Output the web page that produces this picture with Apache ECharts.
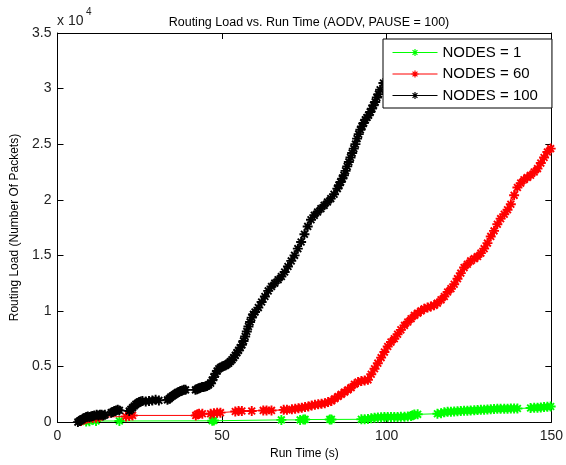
<!DOCTYPE html>
<html>
<head>
<meta charset="utf-8">
<script src="https://cdn.jsdelivr.net/npm/echarts@6/dist/echarts.min.js"></script>
<style>html,body{margin:0;padding:0;background:#fff}#c{width:566px;height:465px}</style>
</head>
<body>
<div id="c"></div>
<script>
// ---- data (Run Time in s, Routing Load in packets) ----
const seriesNames = ['NODES = 1', 'NODES = 60', 'NODES = 100'];
const xTicks = [0, 50, 100, 150];
const yTicks = [0, 5000, 10000, 15000, 20000, 25000, 30000, 35000];

const t1 = [8.7, 9.7, 11.7, 18.8, 47, 47.5, 68, 73.7, 74.7, 75.2, 82.7, 83.2, 92.3, 93.3, 94.3, 95.3, 96.3, 97.3, 98.3, 99.3, 100.3, 101.3, 102.3, 103.3, 104.3, 105.4, 106.4, 107.4, 107.9, 108.4, 109.4, 115.4, 116.5, 117.5, 118.5, 119.5, 120.5, 121.5, 122.5, 123.5, 124.5, 125.5, 126.6, 127.6, 128.6, 129.6, 130.6, 131.6, 132.6, 133.6, 134.6, 135.7, 136.7, 137.7, 138.7, 139.7, 143.7, 144.8, 145.8, 146.8, 147.8, 148.8, 149.8];
const v1 = [50, 80, 100, 100, 120, 150, 200, 200, 230, 240, 240, 240, 250, 260, 280, 350, 400, 420, 440, 450, 450, 460, 460, 450, 470, 480, 500, 540, 620, 680, 700, 750, 800, 880, 920, 940, 950, 980, 1000, 1020, 1030, 1040, 1060, 1080, 1100, 1120, 1140, 1160, 1180, 1190, 1200, 1200, 1210, 1220, 1230, 1220, 1270, 1290, 1300, 1320, 1350, 1370, 1400];

const t60 = [7.2, 8.2, 8.7, 9.7, 10.7, 11.7, 12.7, 20.8, 21.8, 22.8, 42, 42.5, 43, 44, 46.5, 47.5, 48.5, 49.5, 54, 55, 56, 59, 62.5, 63.5, 65, 68.7, 69.7, 71.2, 72.2, 73.2, 74.2, 75.2, 76.2, 77.2, 78.2, 79.2, 80.2, 81.2, 82.2, 83.2, 84.2, 85.2, 86.2, 87.2, 88.2, 89.2, 90.2, 91.3, 92.3, 93.3, 94.3, 95.3, 96.3, 97.3, 98.3, 99.3, 100.3, 101.3, 102.3, 103.3, 104.3, 105.4, 106.4, 107.4, 108.4, 109.4, 110.4, 111.4, 112.4, 113.4, 114.4, 115.4, 116.5, 117.5, 118.5, 119.5, 120.5, 121.5, 122.5, 123.5, 124.5, 125.5, 126.6, 127.6, 128.6, 129.6, 130.6, 131.6, 132.6, 133.6, 134.6, 135.7, 136.7, 137.7, 138.7, 139.7, 140.7, 141.7, 142.7, 143.7, 144.8, 145.8, 146.8, 147.8, 148.8, 149.8];
const v60 = [100, 250, 300, 350, 400, 400, 450, 500, 550, 600, 600, 700, 750, 750, 750, 800, 850, 850, 950, 1000, 1000, 1000, 1050, 1050, 1050, 1100, 1100, 1150, 1200, 1250, 1300, 1350, 1400, 1500, 1550, 1600, 1650, 1700, 1800, 1900, 2100, 2300, 2500, 2700, 2900, 3100, 3400, 3600, 3700, 3750, 3800, 4300, 4800, 5300, 5800, 6300, 6800, 7200, 7500, 7900, 8300, 8700, 9000, 9300, 9600, 9800, 10000, 10200, 10300, 10400, 10500, 10700, 11000, 11300, 11700, 12000, 12400, 12900, 13400, 13900, 14200, 14500, 14700, 14900, 15200, 15600, 16100, 16700, 17200, 17800, 18300, 18700, 19100, 19600, 20400, 21100, 21500, 21800, 22000, 22200, 22500, 22800, 23300, 23800, 24300, 24600];

const t100 = [6.2, 6.7, 7.2, 7.7, 8.2, 8.7, 9.2, 9.7, 10.2, 10.7, 11.2, 11.9, 12.4, 12.9, 13.4, 13.9, 14.4, 16.3, 16.8, 17.3, 17.8, 18.3, 18.8, 21.8, 22.3, 22.8, 23.3, 23.8, 24.3, 24.8, 25.3, 25.8, 26.8, 27.8, 28.8, 29.8, 30.8, 33.4, 33.9, 34.4, 34.9, 35.4, 35.9, 36.4, 36.9, 37.4, 37.9, 38.4, 38.9, 41.9, 42.4, 42.9, 43.4, 43.9, 44.4, 44.9, 45.4, 45.9, 46.5, 47, 47.5, 48, 48.5, 49, 49.5, 50, 50.5, 51, 51.5, 52, 52.5, 53, 53.5, 54, 54.5, 55, 55.5, 56, 56.5, 57, 57.5, 58, 58.5, 59, 59.5, 60, 61, 62, 63, 64, 65, 66, 67, 68, 69, 70, 71, 72, 73, 74, 75, 76, 77, 78, 79, 80, 81, 82, 83, 84, 85, 85.5, 86, 86.5, 87, 87.5, 88, 88.5, 89, 89.5, 90, 90.5, 91, 91.5, 92, 92.5, 93, 93.5, 94, 94.5, 95, 95.5, 96, 96.5, 97, 97.5, 98, 99];
const v100 = [0, 100, 200, 300, 350, 450, 500, 450, 500, 550, 600, 650, 600, 650, 650, 600, 650, 850, 900, 1000, 1050, 1100, 1050, 1000, 1150, 1300, 1450, 1600, 1700, 1800, 1850, 1900, 1850, 1900, 1950, 2000, 1950, 2000, 2100, 2250, 2350, 2450, 2550, 2650, 2700, 2800, 2850, 2900, 2900, 2900, 2950, 3050, 3100, 3150, 3150, 3200, 3250, 3350, 3500, 3750, 4050, 4350, 4600, 4800, 4900, 5000, 5050, 5100, 5200, 5300, 5450, 5600, 5800, 6000, 6250, 6450, 6700, 6950, 7300, 7700, 8150, 8600, 9000, 9400, 9700, 9900, 10300, 10800, 11300, 11800, 12200, 12500, 12800, 13100, 13500, 14000, 14500, 15000, 15600, 16200, 16900, 17600, 18200, 18600, 18900, 19200, 19500, 19800, 20100, 20500, 21000, 21300, 21600, 21900, 22200, 22600, 23000, 23400, 23800, 24200, 24600, 25000, 25500, 25900, 26300, 26600, 26900, 27200, 27400, 27600, 27900, 28200, 28500, 28800, 29200, 29500, 29900, 30500];

const colors = ['#00ff00', '#ff0000', '#000000'];
const FONT = '"Liberation Sans", Arial, sans-serif';
const STAR = 'path://M5 0 L5 10 M0 5 L10 5 M1.6 1.6 L8.4 8.4 M1.6 8.4 L8.4 1.6';

function pairs(t, v) { return t.map((x, i) => [x, v[i]]); }
const dataSets = [pairs(t1, v1), pairs(t60, v60), pairs(t100, v100)];

const chart = echarts.init(document.getElementById('c'), null, {renderer: 'canvas'});

function axisCommon() {
  return {
    axisLine: {show: true, onZero: false, lineStyle: {color: '#000', width: 1}},
    axisTick: {show: true, inside: true, length: 6, lineStyle: {color: '#000'}},
    splitLine: {show: false}
  };
}

chart.setOption({
  backgroundColor: '#fff',
  animation: false,
  title: {
    text: 'Routing Load vs. Run Time (AODV, PAUSE = 100)',
    left: 304, top: 11, textAlign: 'center',
    textStyle: {fontFamily: FONT, fontSize: 12.5, fontWeight: 'normal', color: '#000'}
  },
  grid: {left: 57.5, right: 11, top: 33, bottom: 41, containLabel: false},
  legend: {
    orient: 'vertical', left: 383, top: 39, z: 20,
    data: seriesNames,
    backgroundColor: '#fff', borderColor: '#000', borderWidth: 1,
    padding: [6, 14, 5, 9], itemGap: 6.5, itemWidth: 45, itemHeight: 9,
    itemStyle: {borderWidth: 1.2},
    lineStyle: {width: 1},
    textStyle: {fontFamily: FONT, fontSize: 15, color: '#000'}
  },
  xAxis: [
    Object.assign({type: 'value', position: 'bottom', min: 0, max: 150, interval: 50,
      name: 'Run Time (s)', nameLocation: 'middle', nameGap: 25,
      nameTextStyle: {fontFamily: FONT, fontSize: 12, color: '#000'},
      axisLabel: {fontFamily: FONT, fontSize: 14, color: '#222', margin: 7,
        formatter: v => xTicks.includes(v) ? String(v) : ''}}, axisCommon()),
    Object.assign({type: 'value', position: 'top', min: 0, max: 150, interval: 50,
      axisLabel: {show: false}}, axisCommon())
  ],
  yAxis: [
    Object.assign({type: 'value', position: 'left', min: 0, max: 35000, interval: 5000,
      name: 'Routing Load (Number Of Packets)', nameLocation: 'middle', nameGap: 28,
      nameTextStyle: {fontFamily: FONT, fontSize: 12, color: '#000'},
      axisLabel: {fontFamily: FONT, fontSize: 14, color: '#222', margin: 6,
        formatter: v => yTicks.includes(v) ? String(v / 10000) : ''}}, axisCommon()),
    Object.assign({type: 'value', position: 'right', min: 0, max: 35000, interval: 5000,
      axisLabel: {show: false}}, axisCommon())
  ],
  graphic: [
    {type: 'text', left: 57, top: 14, style: {text: 'x 10', fontFamily: FONT, fontSize: 14, fill: '#222'}},
    {type: 'text', left: 86, top: 7, style: {text: '4', fontFamily: FONT, fontSize: 10, fill: '#222'}}
  ],
  series: seriesNames.map((name, i) => ({
    name: name,
    type: 'line',
    xAxisIndex: 0, yAxisIndex: 0,
    data: dataSets[i],
    symbol: STAR,
    symbolSize: 10,
    showSymbol: true,
    showAllSymbol: true,
    clip: true,
    z: 3 + i,
    lineStyle: {color: colors[i], width: 1},
    itemStyle: {color: colors[i], borderColor: colors[i], borderWidth: 1.9}
  }))
});
</script>
</body>
</html>
